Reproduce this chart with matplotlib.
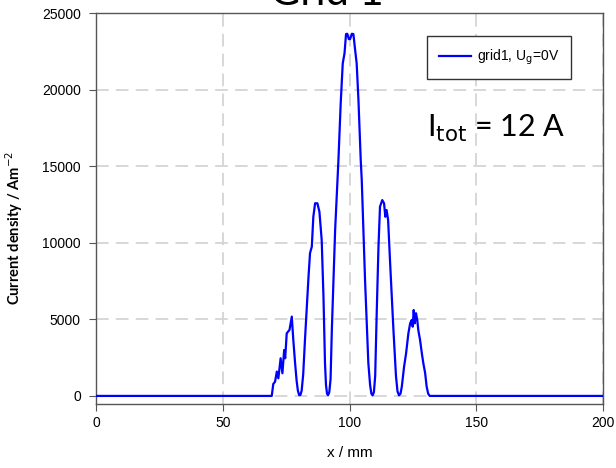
"""grid current density profile."""

import matplotlib

matplotlib.use("Agg")
import matplotlib.pyplot as plt

# measured profile (x in mm, current density in A/m^2)
x_mm = [
    0.0, 69.3, 69.9, 70.6, 71.3, 71.9, 72.8, 73.5, 74.2, 74.6, 75.2, 76.3,
    77.2, 77.8, 78.5, 79.1, 79.6, 80.1, 80.6, 81.1, 81.7, 82.4, 83.8, 84.4,
    85.1, 85.7, 86.4, 87.3, 88.1, 89.0, 89.7, 90.3, 90.7, 91.1, 91.5, 92.0,
    92.5, 93.0, 94.3, 95.6, 96.5, 97.3, 98.0, 98.6, 99.1, 99.7, 100.2, 100.9,
    101.5, 102.2, 102.8, 103.5, 104.4, 104.8, 106.1, 107.4, 108.1, 108.6,
    109.1, 109.6, 110.1, 110.7, 111.4, 112.0, 112.9, 113.6, 114.1, 114.6,
    115.2, 116.0, 117.3, 118.3, 118.9, 119.5, 120.1, 120.6, 121.5, 122.3,
    123.2, 123.9, 124.5, 124.9, 125.3, 125.7, 126.2, 126.7, 127.1, 127.8,
    128.5, 129.1, 129.8, 130.4, 131.0, 131.6, 132.5, 200.0,
]
j_density = [
    0, 0, 780, 930, 1590, 1150, 2460, 1480, 3000, 2460, 4090, 4310,
    5180, 3660, 2150, 1000, 350, 50, 60, 350, 1400, 3660, 7790, 9330,
    9750, 11700, 12580, 12580, 12030, 10180, 6480, 2130, 700, 150, 40, 250,
    1100, 4310, 10830, 15400, 19120, 21710, 22370, 23630, 23650, 23300, 23300, 23650,
    23630, 22580, 21710, 19320, 15400, 14100, 7570, 2150, 700, 150,
    30, 250, 1300, 5400, 9750, 12360, 12790, 12580, 11700, 12140,
    11490, 8660, 4310, 1300, 300, 40, 150, 600, 1910, 2790,
    4090, 4740, 4960, 4520, 5610, 4740, 5400, 4960, 4310, 3660,
    2790, 2130, 1500, 610, 150, 0, 0, 0,
]

x_ticks = [0, 50, 100, 150, 200]
y_ticks = [0, 5000, 10000, 15000, 20000, 25000]

fig = plt.figure(figsize=(6.16, 4.68), dpi=100)
ax = fig.add_axes([0.156, 0.137, 0.823, 0.835])

ax.plot(x_mm, j_density, color="#0000ff", linewidth=1.6, label="grid1, U$_\\mathrm{g}$=0V", zorder=3)

ax.set_xlim(0, 200)
ax.set_ylim(-520, 25000)
ax.set_xticks(x_ticks)
ax.set_yticks(y_ticks)
ax.tick_params(direction="out", length=5, color="#555555", labelsize=10)
ax.tick_params(axis="x", pad=4)
ax.tick_params(axis="y", pad=6)
for lbl in ax.get_xticklabels() + ax.get_yticklabels():
    lbl.set_family("Liberation Sans")
for sp in ax.spines.values():
    sp.set_color("#555555")
    sp.set_linewidth(1.0)

ax.grid(True, color="#d4d4d4", linewidth=1.3, linestyle=(0, (7, 4)), zorder=0)

ax.set_xlabel("x / mm", fontsize=11, family="Liberation Sans", labelpad=11)
ax.set_ylabel("Current density / Am$^{-2}$", fontsize=10.5, family="Lato",
              fontweight="bold")
ax.yaxis.set_label_coords(-0.14, 0.45)

leg = ax.legend(loc="upper right", bbox_to_anchor=(0.937, 0.941), borderaxespad=0,
                fancybox=False, framealpha=1, edgecolor="#333333",
                handlelength=2.3, handletextpad=0.45, borderpad=0.85,
                prop={"family": "Liberation Sans", "size": 10})

ax.text(0.79, 0.705, "I$_\\mathrm{tot}$ = 12 A", transform=ax.transAxes,
        fontsize=22, family="Lato", ha="center", va="center")

fig.text(0.53, 0.989, "Grid 1", fontsize=30, family="Lato", ha="center", va="baseline")

fig.savefig("out.png", dpi=100)
plt.close(fig)
